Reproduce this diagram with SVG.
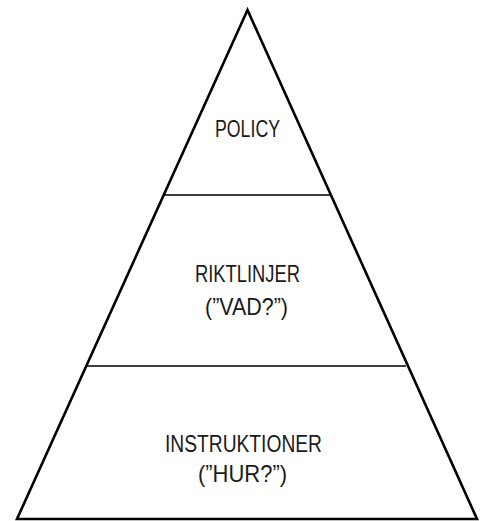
<svg xmlns="http://www.w3.org/2000/svg" width="487" height="521" viewBox="0 0 487 521">
<style>
.t{font-family:"Liberation Sans",Arial,sans-serif;font-size:24px;fill:#1a1a1a;text-anchor:middle}
.div{stroke:#000;stroke-width:1.6;fill:none}
</style>
<rect width="487" height="521" fill="#fff"/>
<g id="pyramid">
<polygon points="247.5,10 17,519 477,519" fill="#fff" stroke="#000" stroke-width="2.6" stroke-linejoin="miter"/>
</g>
<g id="connectors">
<line class="div" x1="164" y1="195" x2="331" y2="195"/>
<line class="div" x1="87" y1="366" x2="406" y2="366"/>
</g>
<g id="policy">
<text class="t" x="247.5" y="137" textLength="65" lengthAdjust="spacingAndGlyphs">POLICY</text>
</g>
<g id="riktlinjer">
<text class="t" x="247.5" y="281.5" textLength="105" lengthAdjust="spacingAndGlyphs">RIKTLINJER</text>
<text class="t" x="246.5" y="315" textLength="83" lengthAdjust="spacingAndGlyphs">(”VAD?”)</text>
</g>
<g id="instruktioner">
<text class="t" x="243.5" y="452" textLength="157" lengthAdjust="spacingAndGlyphs">INSTRUKTIONER</text>
<text class="t" x="242.5" y="481.5" textLength="89" lengthAdjust="spacingAndGlyphs">(”HUR?”)</text>
</g>
</svg>
